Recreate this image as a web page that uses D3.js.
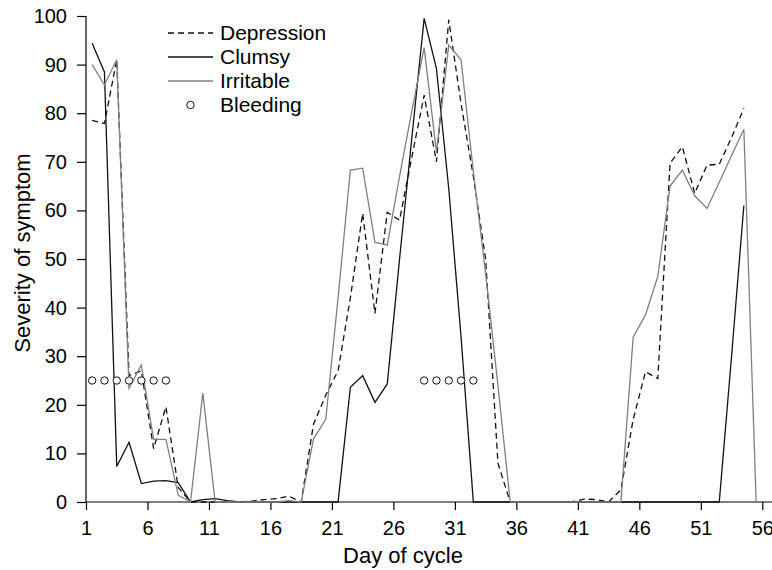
<!DOCTYPE html>
<html>
<head>
<meta charset="utf-8">
<script src="https://cdn.jsdelivr.net/npm/d3@7"></script>
<style>
  body { margin: 0; background: #fff; }
  svg text { font-family: "Liberation Sans", Arial, sans-serif; }
</style>
</head>
<body>
<svg width="772" height="570"></svg>
<script>
// symptom scores per day of cycle (index 1..55), null = not recorded
var days = d3.range(1, 56);

var depression = [78.5, 77.9, 91, 26, 27, 11, 19.6, 3, 0, 0,
  0, 0, 0, 0.2, 0.5, 0.7, 1.2, 0, 16, 22,
  27, 42, 59.4, 38.8, 59.6, 58, 71, 83.7, 70, 99.2,
  82, 67, 50, 8, 0, 0, 0, 0, 0, 0,
  0.6, 0.5, 0, 2.5, 17, 26.8, 25.4, 69.7, 73.1, 63.5,
  69.3, 69.5, 75, 81, null];

var clumsy = [94.4, 88.5, 7.3, 12.3, 3.8, 4.3, 4.4, 4, 0, 0.5,
  0.7, 0.3, 0, 0, 0, 0, 0, 0, 0, 0,
  0, 23.6, 26, 20.5, 24.3, 50, 75, 99.5, 89.2, 64.5,
  34, 0, 0, 0, 0, 0, 0, 0, 0, 0,
  0, 0, 0, 0, 0, 0, 0, 0, 0, 0,
  0, 0, 30, 61, null];

var irritable = [90, 85.8, 91, 23.4, 28.2, 12.9, 12.9, 1.4, 0, 22.4,
  0, 0, 0, 0, 0, 0, 0.3, 0, 13, 17,
  42, 68.3, 68.7, 53.4, 52.9, 67, 80.5, 93.5, 72, 94,
  91, 68, 47, 24, 0, 0, 0, 0, 0, 0,
  0, 0, 0, 0, 33.9, 38.5, 46.4, 65, 68.3, 63,
  60.4, 65.8, 71.3, 76.7, 0];

var bleedingDays = [1, 2, 3, 4, 5, 6, 7, 28, 29, 30, 31, 32];
var bleedingLevel = 25;

var dayTicks = [1, 6, 11, 16, 21, 26, 31, 36, 41, 46, 51, 56];
var severityTicks = [0, 10, 20, 30, 40, 50, 60, 70, 80, 90, 100];

var legendNames = ["Depression", "Clumsy", "Irritable", "Bleeding"];

var svg = d3.select('svg');

var x = d3.scaleLinear().domain([0.5, 55.5]).range([86, 762.3]);
var y = d3.scaleLinear().domain([0, 100]).range([502, 16]);

// axes (L-shaped box like R bty="l")
svg.append('line')
    .attr('x1', x(0.5)).attr('x2', 772)
    .attr('y1', y(0)).attr('y2', y(0))
    .style('stroke', '#000').style('stroke-width', 1.2)

svg.append('line')
    .attr('x1', x(0.5)).attr('x2', x(0.5))
    .attr('y1', y(0)).attr('y2', y(100))
    .style('stroke', '#000').style('stroke-width', 1.2)

var xAxis = svg.append('g')
    .attr('transform', 'translate(0,' + y(0) + ')')
    .call(d3.axisBottom(x)
        .tickValues(dayTicks.map(function (d) { return d - 0.5; }))
        .tickFormat(function (d) { return d + 0.5; })
        .tickSize(8).tickPadding(11))

var yAxis = svg.append('g')
    .attr('transform', 'translate(' + x(0.5) + ',0)')
    .call(d3.axisLeft(y).tickValues(severityTicks).tickSize(9).tickPadding(10))

svg.selectAll('.domain').remove()
svg.selectAll('.tick line').style('stroke', '#000').style('stroke-width', 1.2)
svg.selectAll('.tick text').style('font-size', '20px').style('fill', '#000')

svg.append('text')
    .text('Day of cycle')
    .attr('x', 403)
    .attr('y', 563)
    .attr('text-anchor', 'middle')
    .style('font-size', '22px')

svg.append('text')
    .text('Severity of symptom')
    .attr('transform', 'translate(30,253) rotate(-90)')
    .attr('text-anchor', 'middle')
    .style('font-size', '22px')

// lines
function seriesLine(values) {
    return d3.line()
        .defined(function (d, i) { return values[i] !== null; })
        .x(function (d) { return x(d); })
        .y(function (d, i) { return y(values[i]); })(days);
}

svg.append('path')
    .attr('d', seriesLine(depression))
    .style('fill', 'none').style('stroke', '#111')
    .style('stroke-width', 1.3).style('stroke-dasharray', '6,4')

svg.append('path')
    .attr('d', seriesLine(clumsy))
    .style('fill', 'none').style('stroke', '#111')
    .style('stroke-width', 1.3)

svg.append('path')
    .attr('d', seriesLine(irritable))
    .style('fill', 'none').style('stroke', '#808080')
    .style('stroke-width', 1.3)

svg.selectAll('circle.bleed')
    .data(bleedingDays)
    .enter().append('circle')
    .attr('class', 'bleed')
    .attr('cx', function (d) { return x(d); })
    .attr('cy', y(bleedingLevel))
    .attr('r', 3.7)
    .style('fill', '#fff').style('stroke', '#111').style('stroke-width', 1)

// legend
var legend = svg.append('g').attr('transform', 'translate(168,33)')
var rowGap = 24;

legend.selectAll('text')
    .data(legendNames)
    .enter().append('text')
    .text(function (d) { return d; })
    .attr('x', 52)
    .attr('y', function (d, i) { return i * rowGap; })
    .attr('dy', '0.35em')
    .style('font-size', '21px')

legend.append('line')
    .attr('x1', 0).attr('x2', 45).attr('y1', 0).attr('y2', 0)
    .style('stroke', '#111').style('stroke-width', 1.3).style('stroke-dasharray', '6,4')
legend.append('line')
    .attr('x1', 0).attr('x2', 45).attr('y1', rowGap).attr('y2', rowGap)
    .style('stroke', '#111').style('stroke-width', 1.3)
legend.append('line')
    .attr('x1', 0).attr('x2', 45).attr('y1', rowGap * 2).attr('y2', rowGap * 2)
    .style('stroke', '#808080').style('stroke-width', 1.3)
legend.append('circle')
    .attr('cx', 22.5).attr('cy', rowGap * 3).attr('r', 3.7)
    .style('fill', '#fff').style('stroke', '#111').style('stroke-width', 1)
</script>
</body>
</html>
